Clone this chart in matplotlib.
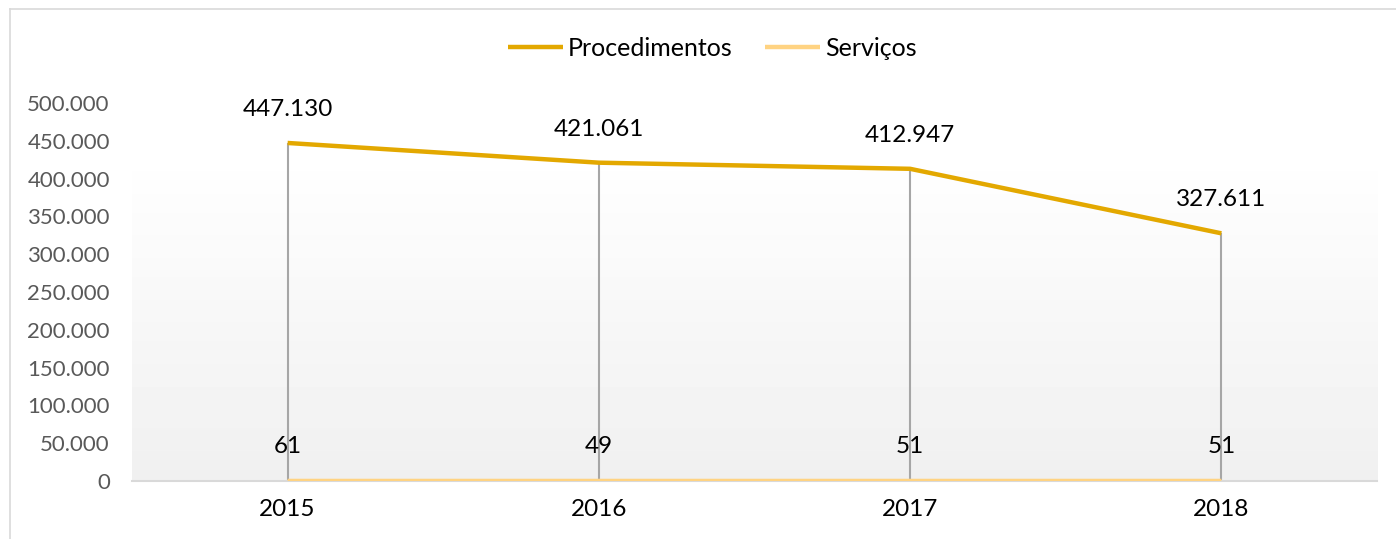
"""Procedimentos e Serviços por ano (line chart with drop lines)."""

import matplotlib

matplotlib.use("Agg")
import matplotlib.pyplot as plt
import numpy as np
from matplotlib.lines import Line2D
from matplotlib.ticker import FuncFormatter

anos = ["2015", "2016", "2017", "2018"]
procedimentos = [447130, 421061, 412947, 327611]
servicos = [61, 49, 51, 51]

COR_PROC = "#E3A800"
COR_SERV = "#FFD382"

plt.rcParams["font.family"] = ["Lato", "DejaVu Sans"]


def _milhar(v, _pos=None):
    return f"{int(v):,}".replace(",", ".")


fig = plt.figure(figsize=(13.96, 5.39), dpi=100)
ax = fig.add_axes([132 / 1396, 1 - 481 / 539, 1245 / 1396, 378 / 539])

x = np.arange(len(anos))
ax.set_xlim(-0.5, len(anos) - 0.5)
ax.set_ylim(0, 500000)

# gradient background: white near top, light gray at the bottom
grad = np.concatenate([np.linspace(0.94, 1.0, 88), np.ones(12)])[:, None]
ax.imshow(grad, cmap="gray", vmin=0, vmax=1, aspect="auto", origin="lower",
          extent=(-0.5, len(anos) - 0.5, 0, 500000), zorder=0)

ax.vlines(x, 0, procedimentos, color="#A6A6A6", lw=1.5, zorder=1)
ax.plot(x, procedimentos, color=COR_PROC, lw=3.2, label="Procedimentos",
        solid_capstyle="butt", zorder=3)
ax.plot(x, servicos, color=COR_SERV, lw=3.2, label="Serviços",
        solid_capstyle="butt", zorder=3)

for xi, v in zip(x, procedimentos):
    ax.annotate(_milhar(v), (xi, v), xytext=(0, 24), textcoords="offset points",
                ha="center", va="center", fontsize=17.5, color="black")
for xi, v in zip(x, servicos):
    ax.annotate(_milhar(v), (xi, v), xytext=(0, 25), textcoords="offset points",
                ha="center", va="center", fontsize=17.5, color="black")

ax.set_yticks(np.arange(0, 500001, 50000))
ax.yaxis.set_major_formatter(FuncFormatter(_milhar))
ax.set_xticks(x, anos)
ax.tick_params(axis="y", length=0, labelsize=16, labelcolor="#595959", pad=16)
ax.tick_params(axis="x", length=0, labelsize=17.5, labelcolor="black", pad=13)
for side in ["top", "right", "left"]:
    ax.spines[side].set_visible(False)
ax.spines["bottom"].set_color("#D9D9D9")
ax.spines["bottom"].set_linewidth(1.5)

fig.legend(loc="center", bbox_to_anchor=(0.51, 1 - 48 / 539), ncol=2,
           frameon=False, fontsize=18, handlelength=2.2, columnspacing=1.3,
           handletextpad=0.2)

# outer chart frame (left and top edges)
fig.add_artist(Line2D([10 / 1396, 10 / 1396], [0, 1 - 9 / 539],
                      color="#D9D9D9", lw=1.2))
fig.add_artist(Line2D([10 / 1396, 1], [1 - 9 / 539, 1 - 9 / 539],
                      color="#D9D9D9", lw=1.2))

fig.savefig("out.png", dpi=100)
